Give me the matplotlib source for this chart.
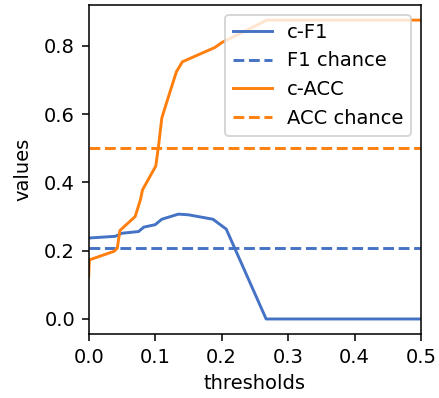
import matplotlib
matplotlib.use("Agg")
import matplotlib.pyplot as plt

cf1_x = [0.0, 0.04, 0.05, 0.075, 0.083, 0.10, 0.11, 0.135, 0.15, 0.187, 0.207, 0.267, 0.5]
cf1_y = [0.237, 0.242, 0.251, 0.256, 0.269, 0.276, 0.292, 0.307, 0.305, 0.292, 0.263, 0.0, 0.0]

cacc_x = [0.0, 0.001, 0.038, 0.043, 0.047, 0.070, 0.078, 0.081, 0.101, 0.105, 0.110,
          0.117, 0.132, 0.141, 0.190, 0.200, 0.268, 0.5]
cacc_y = [0.125, 0.173, 0.198, 0.207, 0.259, 0.300, 0.350, 0.378, 0.448, 0.505, 0.588,
          0.632, 0.724, 0.753, 0.795, 0.809, 0.875, 0.875]

f1_chance = 0.207
acc_chance = 0.5

blue = "#4472c4"
orange = "#ff7f0e"

DPI = 140
fig = plt.figure(figsize=(439 / DPI, 398 / DPI), dpi=DPI)
ax = fig.add_axes([0.202, 0.161, 0.757, 0.826])
ax.plot(cf1_x, cf1_y, color=blue, lw=1.5, label="c-F1")
ax.axhline(f1_chance, color=blue, lw=1.5, ls="--", label="F1 chance")
ax.plot(cacc_x, cacc_y, color=orange, lw=1.5, label="c-ACC")
ax.axhline(acc_chance, color=orange, lw=1.5, ls="--", label="ACC chance")
ax.set_xlim(0, 0.5)
ax.set_xlabel("thresholds")
ax.set_ylabel("values", labelpad=6)
ax.legend(loc="upper right")
fig.savefig("out.png", dpi=DPI)
